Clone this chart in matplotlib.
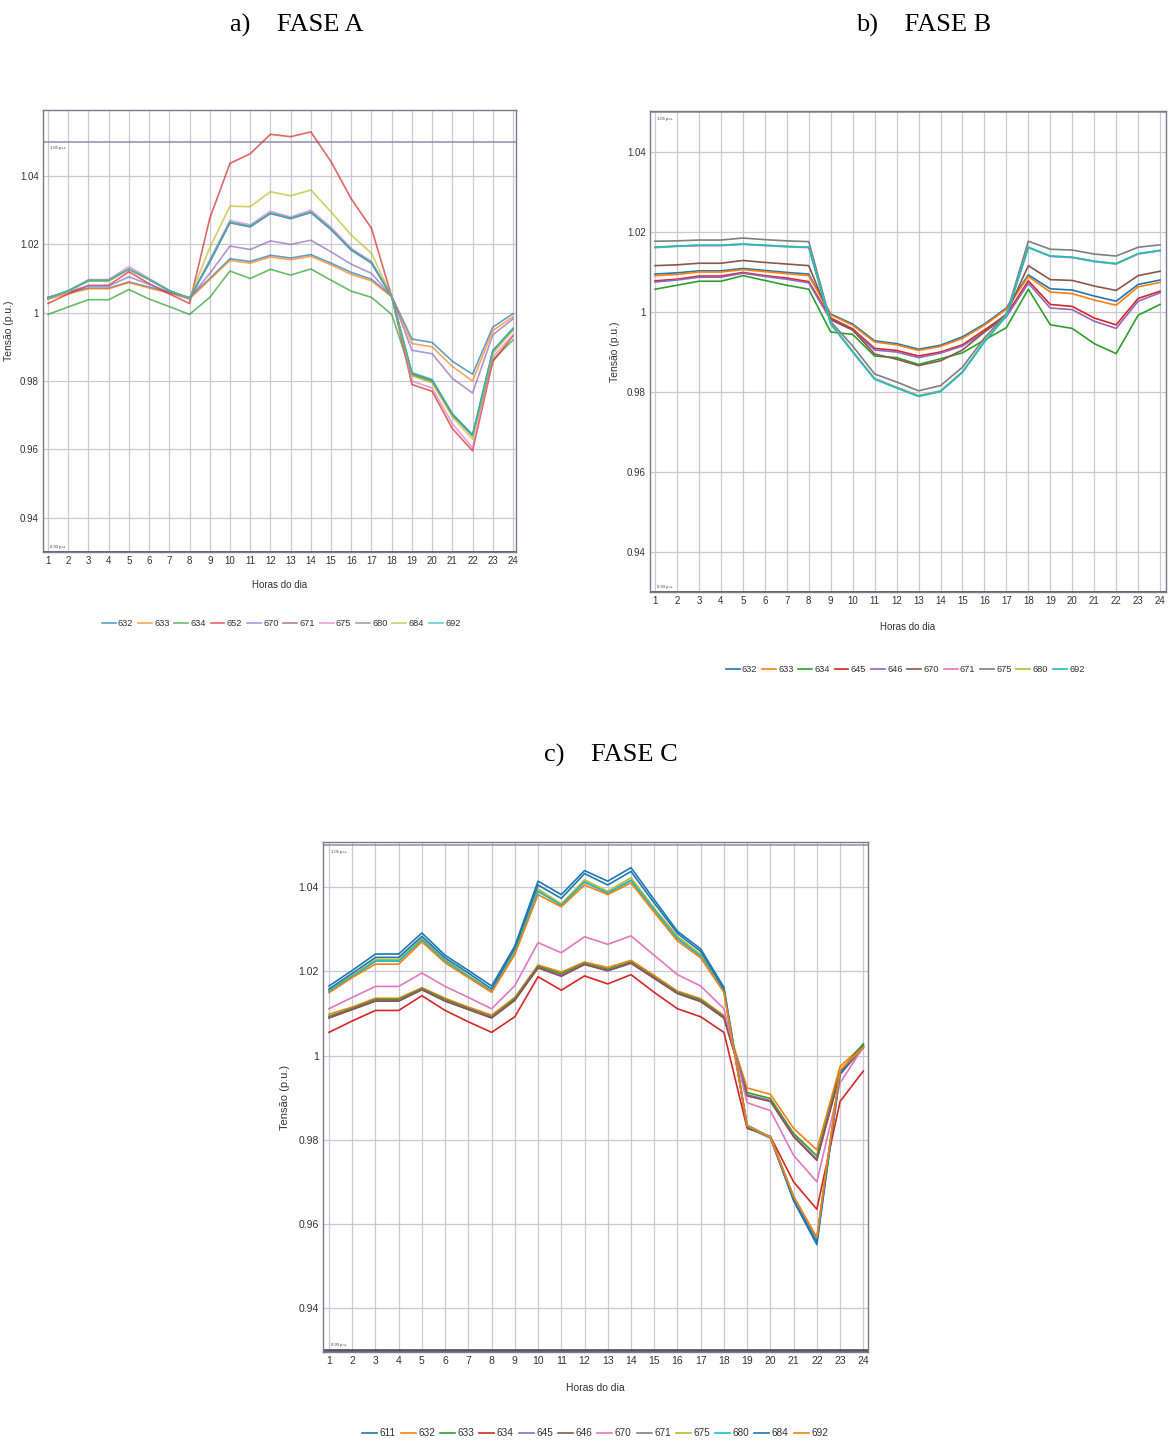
import matplotlib
matplotlib.use("Agg")
import matplotlib.pyplot as plt

# -----------------------------
# data
# -----------------------------
horas = list(range(1, 25))

# FASE A
nos_a = ["632", "633", "634", "652", "670", "671", "675", "680", "684", "692"]
a_632 = [1.0045, 1.0060, 1.0072, 1.0072, 1.0090, 1.0075, 1.0060, 1.0045, 1.0100, 1.0158, 1.0150, 1.0168,
         1.0160, 1.0170, 1.0145, 1.0118, 1.0098, 1.0048, 0.9923, 0.9913, 0.9858, 0.9820, 0.9958, 0.9997]
a_633 = [1.0040, 1.0055, 1.0070, 1.0070, 1.0088, 1.0072, 1.0057, 1.0040, 1.0097, 1.0153, 1.0145, 1.0163,
         1.0155, 1.0165, 1.0140, 1.0112, 1.0093, 1.0047, 0.9910, 0.9900, 0.9843, 0.9800, 0.9948, 0.9988]
a_634 = [0.9995, 1.0017, 1.0038, 1.0038, 1.0068, 1.0040, 1.0018, 0.9995, 1.0045, 1.0122, 1.0100, 1.0127,
         1.0110, 1.0128, 1.0095, 1.0063, 1.0045, 0.9995, 0.9818, 0.9798, 0.9702, 0.9642, 0.9862, 0.9920]
a_652 = [1.0027, 1.0055, 1.0080, 1.0080, 1.0120, 1.0085, 1.0055, 1.0027, 1.0276, 1.0437, 1.0465, 1.0522,
         1.0515, 1.0529, 1.0442, 1.0333, 1.0247, 1.0047, 0.9790, 0.9770, 0.9661, 0.9596, 0.9857, 0.9932]
a_670 = [1.0045, 1.0062, 1.0078, 1.0078, 1.0105, 1.0083, 1.0060, 1.0043, 1.0115, 1.0195, 1.0185, 1.0210,
         1.0200, 1.0212, 1.0178, 1.0142, 1.0115, 1.0048, 0.9890, 0.9880, 0.9808, 0.9765, 0.9935, 0.9982]
a_671 = [1.0042, 1.0064, 1.0094, 1.0094, 1.0127, 1.0097, 1.0064, 1.0042, 1.0148, 1.0263, 1.0251, 1.0290,
         1.0275, 1.0293, 1.0243, 1.0183, 1.0145, 1.0047, 0.9822, 0.9802, 0.9702, 0.9640, 0.9887, 0.9952]
a_675 = [1.0042, 1.0062, 1.0097, 1.0097, 1.0135, 1.0100, 1.0065, 1.0042, 1.0155, 1.0270, 1.0257, 1.0297,
         1.0280, 1.0300, 1.0250, 1.0188, 1.0150, 1.0048, 0.9800, 0.9780, 0.9675, 0.9605, 0.9870, 0.9935]
a_680 = [1.0042, 1.0064, 1.0094, 1.0094, 1.0127, 1.0097, 1.0064, 1.0042, 1.0149, 1.0264, 1.0252, 1.0291,
         1.0276, 1.0294, 1.0244, 1.0184, 1.0146, 1.0047, 0.9823, 0.9803, 0.9703, 0.9641, 0.9888, 0.9953]
a_684 = [1.0042, 1.0062, 1.0092, 1.0092, 1.0128, 1.0097, 1.0065, 1.0042, 1.0190, 1.0312, 1.0310, 1.0354,
         1.0342, 1.0359, 1.0295, 1.0227, 1.0174, 1.0047, 0.9815, 0.9795, 0.9695, 0.9630, 0.9880, 0.9948]
a_692 = [1.0042, 1.0065, 1.0095, 1.0095, 1.0128, 1.0098, 1.0065, 1.0042, 1.0150, 1.0265, 1.0253, 1.0292,
         1.0277, 1.0295, 1.0245, 1.0185, 1.0147, 1.0048, 0.9825, 0.9805, 0.9705, 0.9643, 0.9890, 0.9955]

# FASE B
nos_b = ["632", "633", "634", "645", "646", "670", "671", "675", "680", "692"]
b_632 = [1.0095, 1.0098, 1.0103, 1.0103, 1.0109, 1.0104, 1.0099, 1.0095, 0.9995, 0.9970, 0.9928, 0.9921,
         0.9907, 0.9917, 0.9938, 0.9970, 1.0010, 1.0093, 1.0058, 1.0055, 1.0040, 1.0027, 1.0069, 1.0080]
b_633 = [1.0091, 1.0094, 1.0100, 1.0100, 1.0106, 1.0101, 1.0096, 1.0091, 0.9993, 0.9967, 0.9925, 0.9918,
         0.9904, 0.9914, 0.9934, 0.9967, 1.0007, 1.0089, 1.0050, 1.0046, 1.0030, 1.0017, 1.0063, 1.0074]
b_634 = [1.0057, 1.0067, 1.0077, 1.0077, 1.0091, 1.0079, 1.0067, 1.0057, 0.9950, 0.9944, 0.9890, 0.9886,
         0.9869, 0.9883, 0.9898, 0.9930, 0.9961, 1.0057, 0.9968, 0.9959, 0.9921, 0.9896, 0.9992, 1.0019]
b_645 = [1.0078, 1.0082, 1.0090, 1.0090, 1.0099, 1.0091, 1.0085, 1.0076, 0.9985, 0.9958, 0.9909, 0.9904,
         0.9890, 0.9900, 0.9918, 0.9955, 0.9993, 1.0078, 1.0019, 1.0014, 0.9985, 0.9968, 1.0034, 1.0052]
b_646 = [1.0075, 1.0080, 1.0087, 1.0087, 1.0097, 1.0089, 1.0082, 1.0073, 0.9980, 0.9955, 0.9905, 0.9900,
         0.9886, 0.9897, 0.9915, 0.9950, 0.9988, 1.0072, 1.0010, 1.0006, 0.9977, 0.9959, 1.0027, 1.0048]
b_670 = [1.0116, 1.0118, 1.0122, 1.0122, 1.0129, 1.0124, 1.0120, 1.0116, 0.9983, 0.9955, 0.9895, 0.9882,
         0.9866, 0.9878, 0.9905, 0.9950, 0.9995, 1.0116, 1.0081, 1.0079, 1.0065, 1.0054, 1.0091, 1.0102]
b_671 = [1.0161, 1.0164, 1.0166, 1.0166, 1.0169, 1.0166, 1.0163, 1.0161, 0.9972, 0.9902, 0.9834, 0.9812,
         0.9791, 0.9803, 0.9851, 0.9927, 0.9991, 1.0161, 1.0139, 1.0136, 1.0126, 1.0120, 1.0145, 1.0153]
b_675 = [1.0177, 1.0178, 1.0180, 1.0180, 1.0185, 1.0181, 1.0178, 1.0176, 0.9976, 0.9915, 0.9845, 0.9825,
         0.9803, 0.9816, 0.9862, 0.9935, 0.9995, 1.0177, 1.0157, 1.0155, 1.0145, 1.0140, 1.0162, 1.0168]
b_680 = [1.0162, 1.0165, 1.0167, 1.0167, 1.0170, 1.0167, 1.0164, 1.0162, 0.9971, 0.9901, 0.9833, 0.9811,
         0.9790, 0.9802, 0.9850, 0.9926, 0.9991, 1.0162, 1.0140, 1.0137, 1.0127, 1.0121, 1.0146, 1.0154]
b_692 = [1.0162, 1.0165, 1.0167, 1.0167, 1.0170, 1.0167, 1.0164, 1.0162, 0.9970, 0.9900, 0.9832, 0.9810,
         0.9789, 0.9801, 0.9849, 0.9925, 0.9990, 1.0162, 1.0140, 1.0137, 1.0127, 1.0121, 1.0146, 1.0154]

# FASE C
nos_c = ["611", "632", "633", "634", "645", "646", "670", "671", "675", "680", "684", "692"]
c_611 = [1.0165, 1.0202, 1.0241, 1.0241, 1.0291, 1.0238, 1.0202, 1.0165, 1.0260, 1.0414, 1.0382, 1.0439,
         1.0414, 1.0446, 1.0370, 1.0295, 1.0253, 1.0162, 0.9832, 0.9806, 0.9655, 0.9551, 0.9955, 1.0025]
c_632 = [1.0098, 1.0115, 1.0136, 1.0136, 1.0161, 1.0136, 1.0115, 1.0096, 1.0138, 1.0215, 1.0198, 1.0222,
         1.0209, 1.0226, 1.0190, 1.0153, 1.0135, 1.0095, 0.9923, 0.9908, 0.9827, 0.9776, 0.9974, 1.0025]
c_633 = [1.0093, 1.0112, 1.0133, 1.0133, 1.0159, 1.0133, 1.0112, 1.0092, 1.0135, 1.0212, 1.0194, 1.0219,
         1.0205, 1.0222, 1.0186, 1.0150, 1.0132, 1.0092, 0.9912, 0.9898, 0.9815, 0.9762, 0.9962, 1.0028]
c_634 = [1.0055, 1.0082, 1.0107, 1.0107, 1.0142, 1.0107, 1.0080, 1.0055, 1.0092, 1.0187, 1.0155, 1.0189,
         1.0170, 1.0192, 1.0150, 1.0111, 1.0092, 1.0055, 0.9827, 0.9808, 0.9700, 0.9635, 0.9891, 0.9963]
c_645 = [1.0090, 1.0110, 1.0130, 1.0130, 1.0157, 1.0130, 1.0110, 1.0090, 1.0132, 1.0209, 1.0190, 1.0217,
         1.0202, 1.0220, 1.0184, 1.0148, 1.0129, 1.0090, 0.9907, 0.9893, 0.9810, 0.9754, 0.9958, 1.0020]
c_646 = [1.0089, 1.0109, 1.0129, 1.0129, 1.0156, 1.0129, 1.0109, 1.0089, 1.0131, 1.0208, 1.0188, 1.0216,
         1.0201, 1.0219, 1.0183, 1.0147, 1.0128, 1.0089, 0.9904, 0.9891, 0.9807, 0.9751, 0.9956, 1.0018]
c_670 = [1.0111, 1.0138, 1.0164, 1.0164, 1.0196, 1.0164, 1.0138, 1.0111, 1.0166, 1.0268, 1.0244, 1.0282,
         1.0264, 1.0284, 1.0238, 1.0192, 1.0165, 1.0111, 0.9888, 0.9869, 0.9763, 0.9700, 0.9935, 1.0020]
c_671 = [1.0153, 1.0188, 1.0224, 1.0224, 1.0275, 1.0225, 1.0188, 1.0152, 1.0244, 1.0390, 1.0357, 1.0412,
         1.0386, 1.0416, 1.0346, 1.0278, 1.0236, 1.0153, 0.9834, 0.9806, 0.9665, 0.9566, 0.9963, 1.0021]
c_675 = [1.0155, 1.0190, 1.0228, 1.0228, 1.0278, 1.0228, 1.0190, 1.0153, 1.0248, 1.0395, 1.0360, 1.0417,
         1.0390, 1.0422, 1.0350, 1.0283, 1.0240, 1.0155, 0.9835, 0.9807, 0.9665, 0.9565, 0.9962, 1.0020]
c_680 = [1.0153, 1.0188, 1.0224, 1.0224, 1.0275, 1.0225, 1.0188, 1.0152, 1.0244, 1.0390, 1.0357, 1.0412,
         1.0386, 1.0416, 1.0346, 1.0278, 1.0236, 1.0153, 0.9834, 0.9806, 0.9665, 0.9566, 0.9963, 1.0021]
c_684 = [1.0158, 1.0195, 1.0233, 1.0233, 1.0283, 1.0232, 1.0196, 1.0158, 1.0255, 1.0405, 1.0373, 1.0432,
         1.0405, 1.0437, 1.0362, 1.0290, 1.0247, 1.0158, 0.9830, 0.9804, 0.9658, 0.9557, 0.9958, 1.0022]
c_692 = [1.0149, 1.0185, 1.0217, 1.0217, 1.0270, 1.0220, 1.0185, 1.0150, 1.0240, 1.0382, 1.0353, 1.0405,
         1.0382, 1.0410, 1.0340, 1.0272, 1.0232, 1.0150, 0.9833, 0.9805, 0.9665, 0.9568, 0.9965, 1.0020]

series_a = [a_632, a_633, a_634, a_652, a_670, a_671, a_675, a_680, a_684, a_692]
series_b = [b_632, b_633, b_634, b_645, b_646, b_670, b_671, b_675, b_680, b_692]
series_c = [c_611, c_632, c_633, c_634, c_645, c_646, c_670, c_671, c_675, c_680, c_684, c_692]

yticks = [0.94, 0.96, 0.98, 1.0, 1.02, 1.04]
yticklabels = ["0.94", "0.96", "0.98", "1", "1.02", "1.04"]

cores = ["#1f77b4", "#ff7f0e", "#2ca02c", "#d62728", "#9467bd", "#8c564b",
         "#e377c2", "#7f7f7f", "#bcbd22", "#17becf"]

plt.rcParams['font.family'] = ['Liberation Sans', 'DejaVu Sans']

fig = plt.figure(figsize=(11.68, 14.42), dpi=100)


def painel(rect, nos, series, ylim, xlim, alpha, fs, ylab_x, xlab_y, leg_xy):
    ax = fig.add_axes(rect)
    for i, (no, v) in enumerate(zip(nos, series)):
        ax.plot(horas, v, color=cores[i % 10], lw=1.2, alpha=alpha, label=no, zorder=3)
    # limits 1.05 / 0.93 p.u.
    ax.axhline(1.05, color="#8d8dab", lw=1.1, zorder=2)
    ax.axhline(0.93, color="#55556e", lw=2.0, zorder=2)
    ax.text(1.1, 1.05 - 0.0012, "1.05 p.u.", fontsize=3, va="top", ha="left", color="#333333")
    ax.text(1.1, 0.93 + 0.0008, "0.93 p.u.", fontsize=3, va="bottom", ha="left", color="#333333")
    ax.set_xlim(*xlim)
    ax.set_ylim(*ylim)
    ax.set_xticks(horas)
    ax.set_yticks(yticks)
    ax.set_yticklabels(yticklabels)
    ax.tick_params(labelsize=fs, length=0, pad=3, colors="#333333")
    ax.grid(True, color="#c8c9d3", lw=0.9, zorder=0)
    for s in ax.spines.values():
        s.set_color("#7a7a8a")
        s.set_linewidth(1.0)
    meio_x = rect[0] + rect[2] / 2
    meio_y = rect[1] + rect[3] / 2
    ax.set_ylabel("Tensão (p.u.)", fontsize=fs + 0.5, color="#333333")
    ax.yaxis.set_label_coords(ylab_x, meio_y, transform=fig.transFigure)
    ax.set_xlabel("Horas do dia", fontsize=fs, color="#333333")
    ax.xaxis.set_label_coords(meio_x, xlab_y, transform=fig.transFigure)
    ax.legend(loc="center", bbox_to_anchor=leg_xy, bbox_transform=fig.transFigure,
              ncol=len(nos), frameon=False, fontsize=fs - 0.3, handlelength=1.5,
              handletextpad=0.25, columnspacing=0.5, labelcolor="#333333")
    return ax


# FASE A
painel([0.0368, 0.6172, 0.405, 0.3065], nos_a, series_a, (0.93, 1.0593), (0.75, 24.15),
       0.7, 7.0, 0.012, 1 - 580 / 1442, (281 / 1168, 1 - 624 / 1442))
# FASE B
painel([0.5565, 0.5895, 0.4418, 0.3336], nos_b, series_b, (0.93, 1.0503), (0.77, 24.27),
       1.0, 7.0, 0.531, 1 - 622 / 1442, (905 / 1168, 1 - 670 / 1442))
# FASE C
painel([0.2765, 0.0624, 0.4666, 0.3537], nos_c, series_c, (0.9296, 1.0507), (0.74, 24.2),
       1.0, 7.5, 0.248, 1 - 1383 / 1442, (595 / 1168, 1 - 1433 / 1442))

titulo = dict(fontsize=19, family=["Liberation Serif", "DejaVu Serif"], ha="center", va="center")
fig.text(297 / 1168, 1 - 25 / 1442, "a)    FASE A", **titulo)
fig.text(924 / 1168, 1 - 25 / 1442, "b)    FASE B", **titulo)
fig.text(611 / 1168, 1 - 755 / 1442, "c)    FASE C", **titulo)

fig.savefig("out.png", dpi=100)
